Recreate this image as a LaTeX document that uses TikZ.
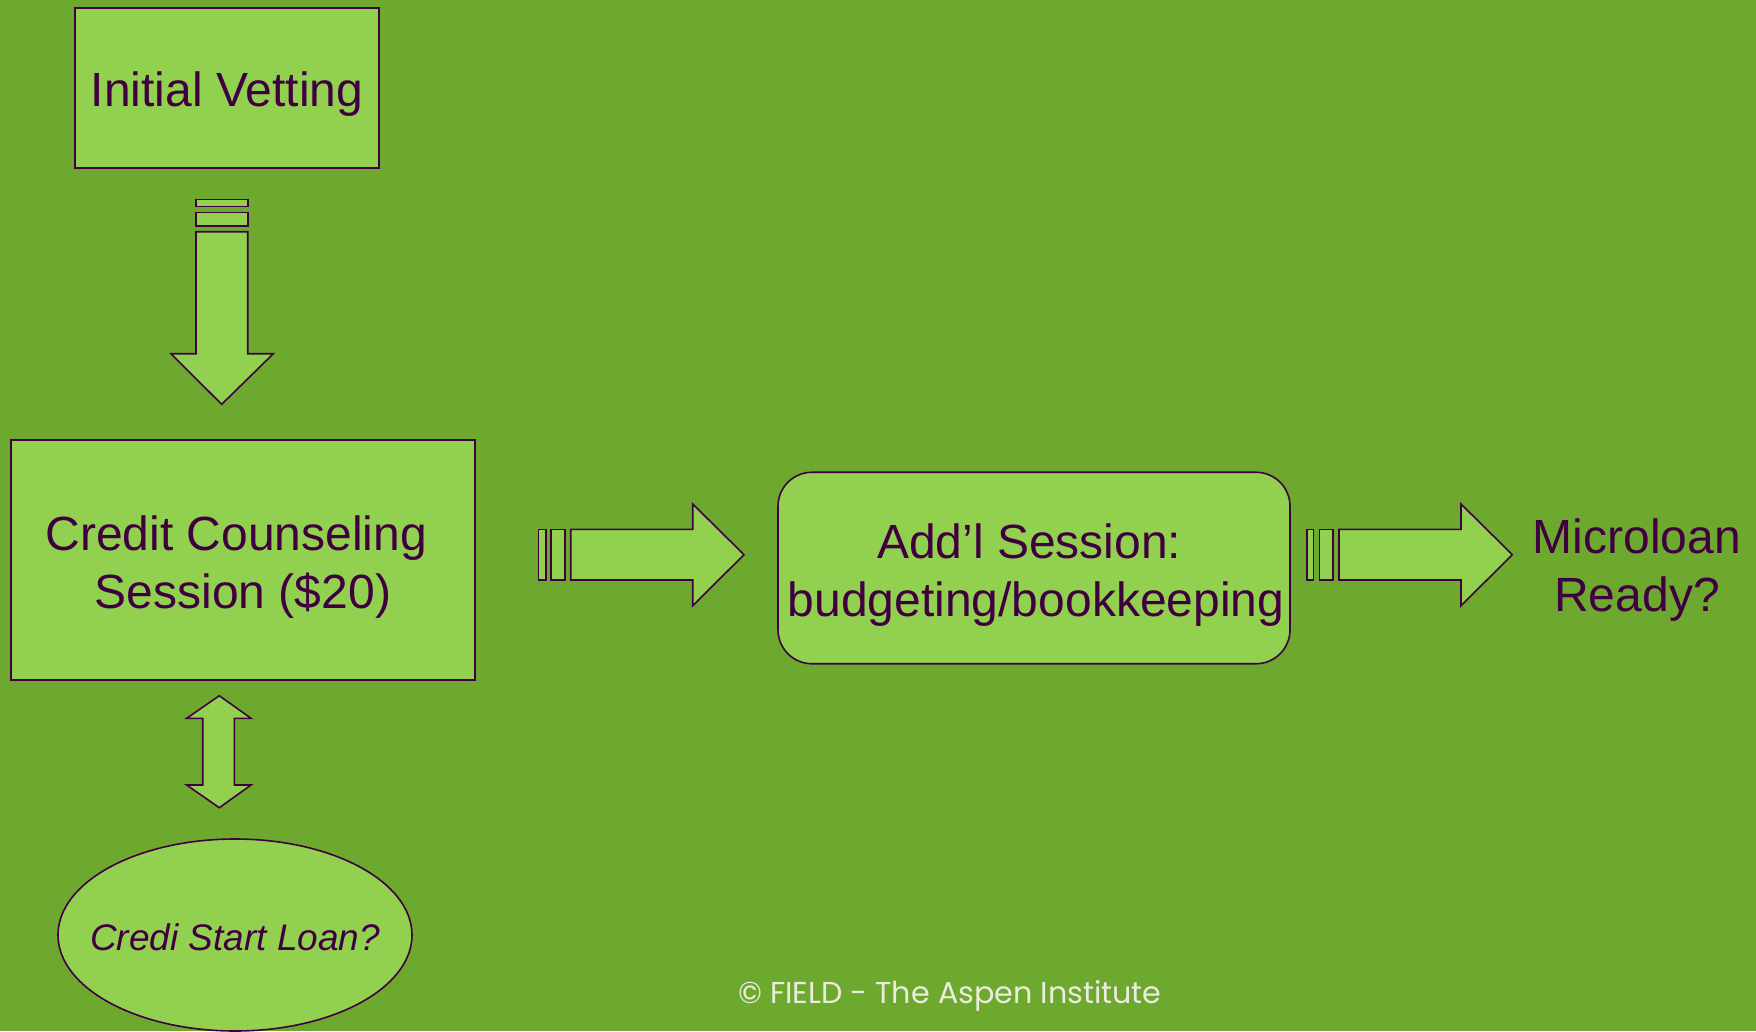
\documentclass[tikz,border=0pt]{standalone}
\usepackage{fontspec}
\setmainfont{Liberation Sans}
\newfontfamily\footfont{Poppins}
\usetikzlibrary{shapes.geometric}
\definecolor{bg}{RGB}{109,169,46}
\definecolor{boxfill}{RGB}{146,208,80}
\definecolor{ink}{RGB}{64,0,64}
\definecolor{foot}{RGB}{236,236,220}
\tikzset{
  box/.style={draw=ink, fill=boxfill, line width=1.6pt, inner sep=0pt},
  blockarrow/.style={draw=ink, fill=boxfill, line width=1.6pt, line join=miter},
  plaintext/.style={text=ink, align=center, inner sep=0pt, font=\fontsize{48}{57.6}\selectfont},
}
\begin{document}
\begin{tikzpicture}[x=1pt,y=-1pt]
\fill[bg] (0,0) rectangle (1756,1031);
\useasboundingbox (0,0) rectangle (1756,1031);

% shapes
\node[box, rectangle, minimum width=303.5pt, minimum height=160pt] (vet) at (227,88) {};
\node[box, rectangle, minimum width=464pt, minimum height=240pt] (cc) at (243,560) {};
\node[box, rectangle, rounded corners=34pt, minimum width=512pt, minimum height=191.5pt] (add) at (1034,568) {};
\node[box, ellipse, minimum width=354pt, minimum height=192pt] (loan) at (235,935) {};

% texts
\node[plaintext] (vett) at ([shift={(0,6)}]vet.center) {Initial Vetting};
\node[plaintext] (cct) at ([shift={(0,7)}]cc.center) {Credit Counseling\hspace*{0.28em}\\Session (\$20)};
\node[plaintext] (addt) at ([shift={(2,7)}]add.center) {Add’l Session:\hspace*{0.28em}\\budgeting/bookkeeping};
\node[plaintext] (micro) at (1637,570) {Microloan\\Ready?};
\node[plaintext, font=\fontsize{37}{44}\selectfont\itshape] (loant) at ([shift={(0,2)}]loan.center) {Credi Start Loan?};
\node[text=foot, inner sep=0pt, font=\footfont\fontsize{30.2}{36}\selectfont] (footer) at (950,996) {© FIELD - The Aspen Institute};

% down arrow from Initial Vetting to Credit Counseling
\draw[blockarrow] (196,199.3) rectangle (247.7,206.3);
\draw[blockarrow] (196,212.3) rectangle (247.7,225.7);
\draw[blockarrow] (196,231.7) -- (247.7,231.7) -- (247.7,353.7) -- (273.3,353.7)
  -- (221.7,404.3) -- (171,353.7) -- (196,353.7) -- cycle;

% right arrow from Credit Counseling to Add'l Session
\draw[blockarrow] (538.3,529.3) rectangle (545.7,580);
\draw[blockarrow] (551,529.3) rectangle (565,580);
\draw[blockarrow] (570.7,529.3) -- (692.7,529.3) -- (692.7,504) -- (744,554.7)
  -- (692.7,605.7) -- (692.7,580) -- (570.7,580) -- cycle;

% right arrow from Add'l Session to Microloan Ready?
\draw[blockarrow] (1306.7,529.3) rectangle (1313.3,580);
\draw[blockarrow] (1319.3,529.3) rectangle (1332.7,580);
\draw[blockarrow] (1339,529.3) -- (1461,529.3) -- (1461,504) -- (1512.3,554.7)
  -- (1461,605.7) -- (1461,580) -- (1339,580) -- cycle;

% double arrow between Credit Counseling and Credi Start Loan
\draw[blockarrow] (219.3,695.7) -- (251,718.3) -- (234.3,718.3) -- (234.3,785)
  -- (251,785) -- (219.3,807.7) -- (186.7,785) -- (202.7,785) -- (202.7,718.3)
  -- (186.7,718.3) -- cycle;
\end{tikzpicture}
\end{document}
